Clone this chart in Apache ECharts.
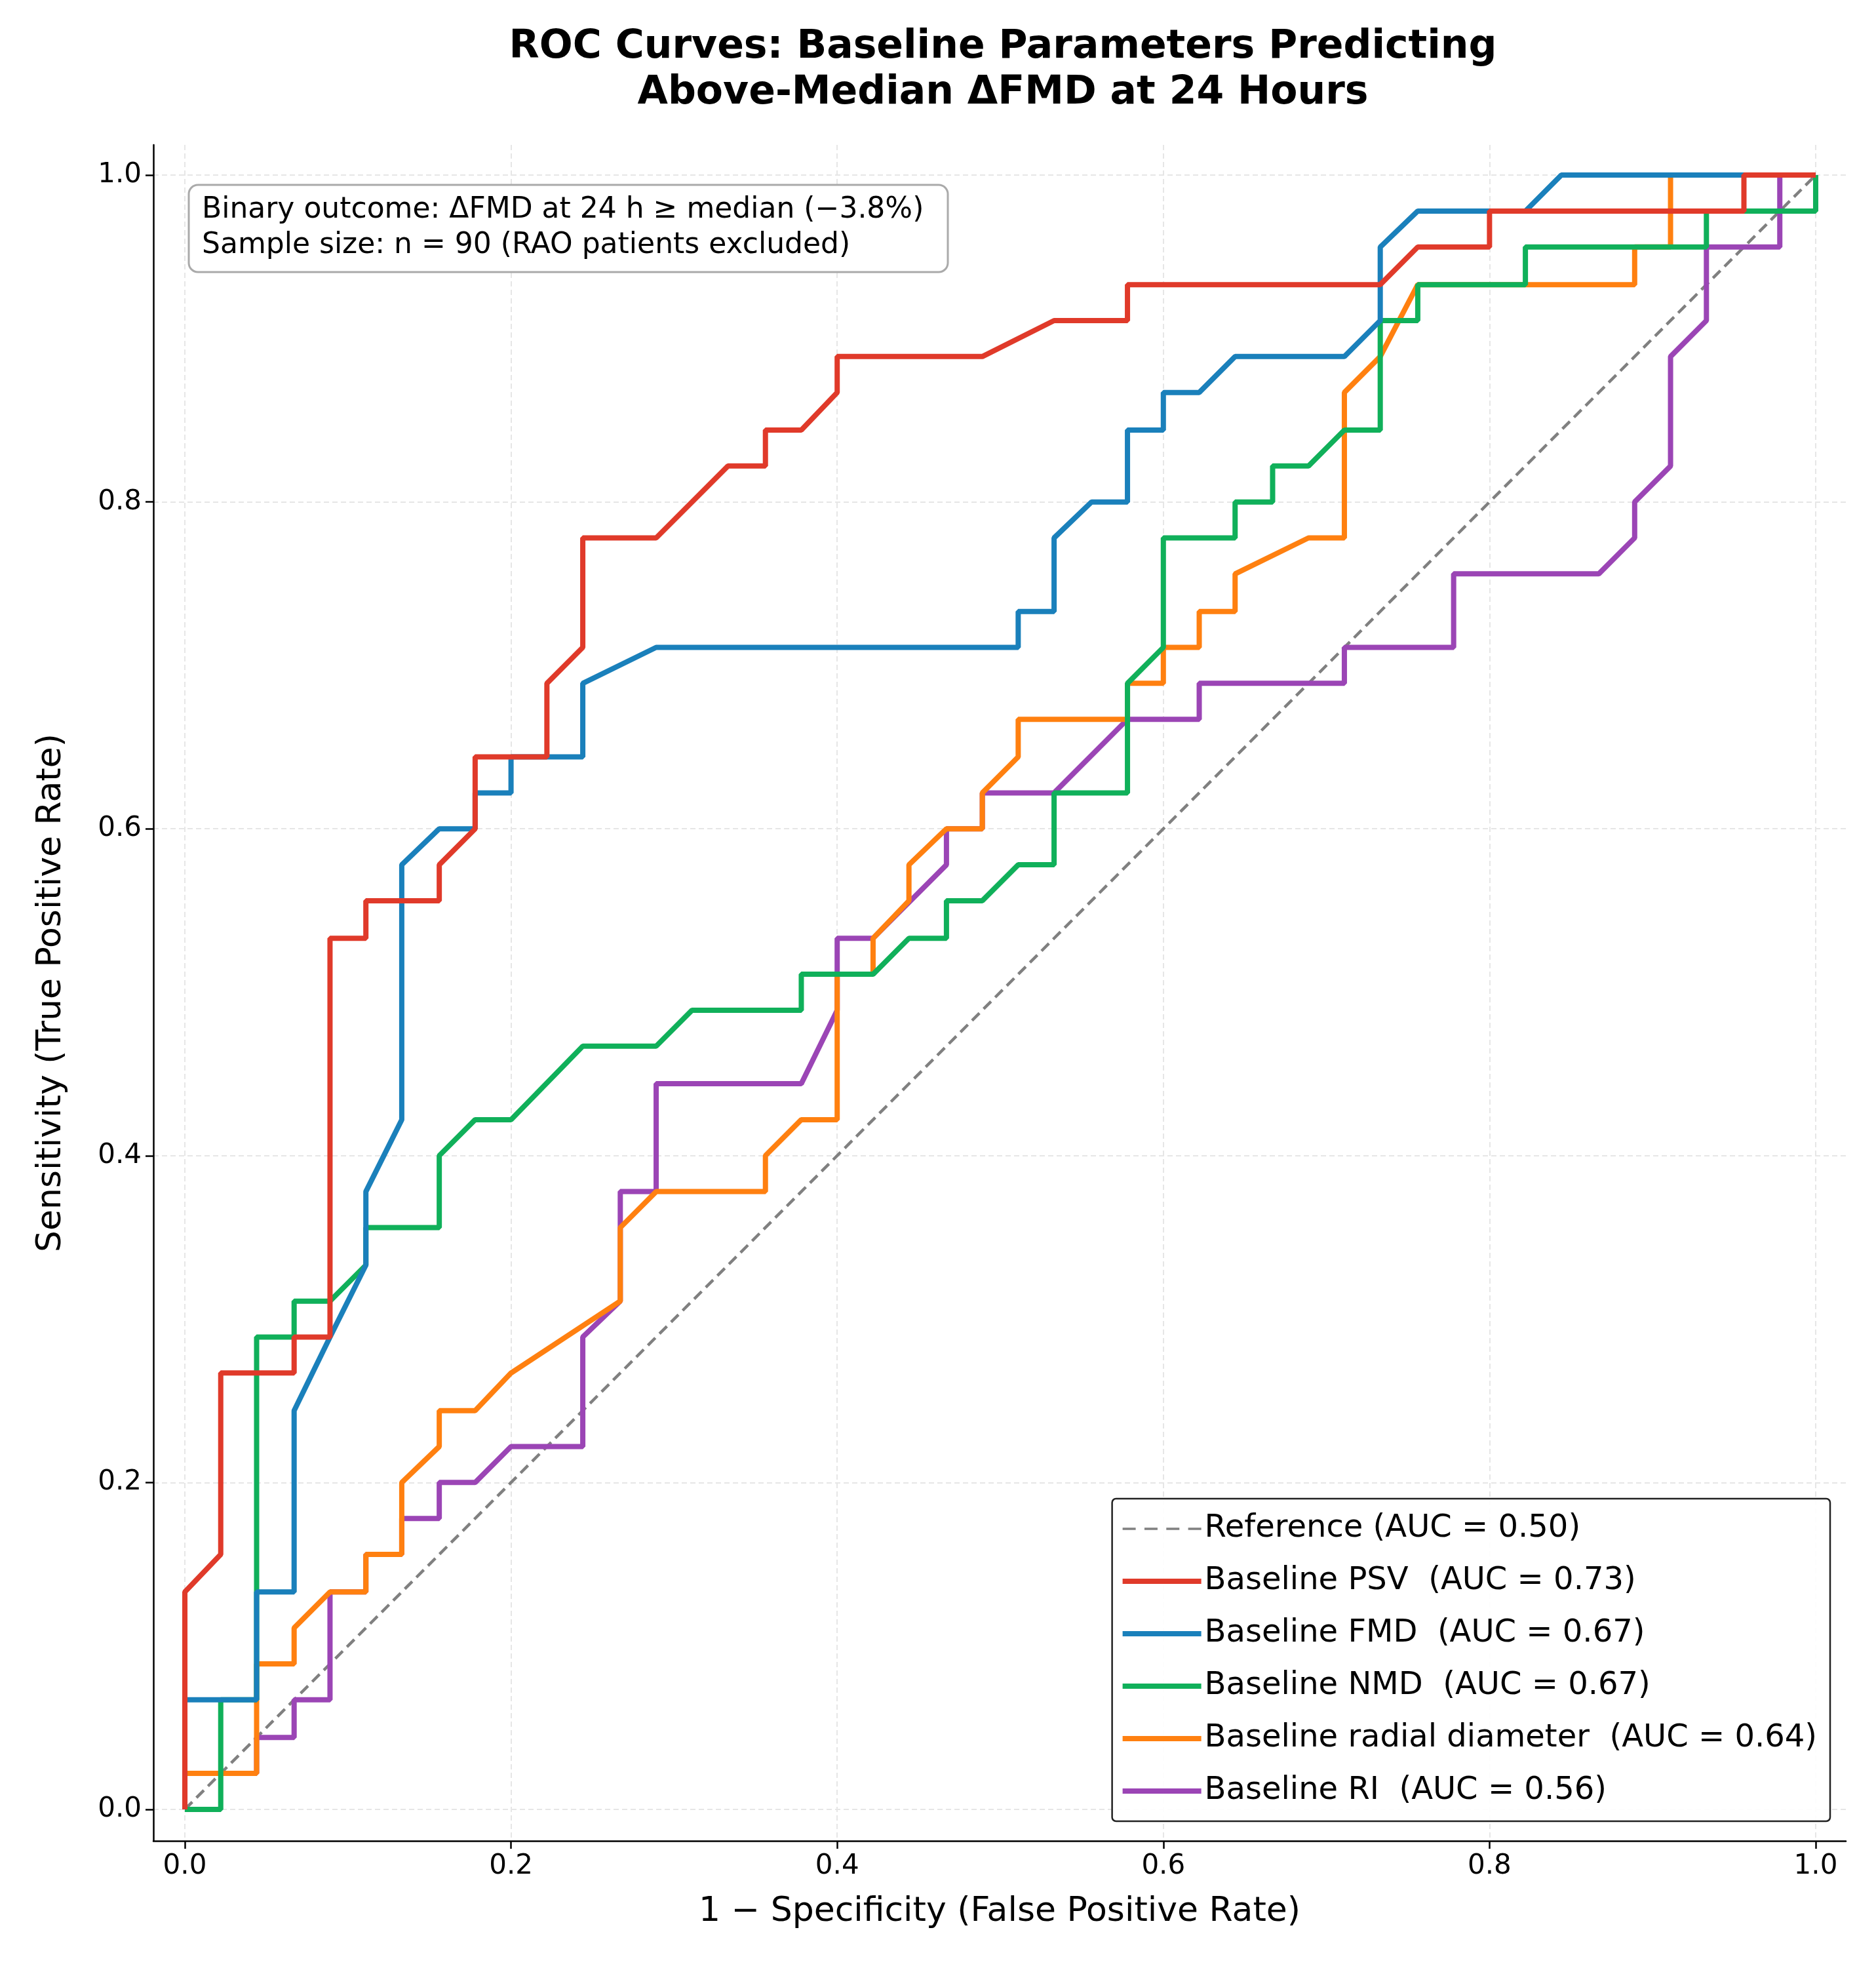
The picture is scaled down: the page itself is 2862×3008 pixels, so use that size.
<!DOCTYPE html>
<html><head><meta charset="utf-8">
<script src="https://cdn.jsdelivr.net/npm/echarts@6/dist/echarts.min.js"></script>
<style>html,body{margin:0;padding:0;background:#fff}#c{width:2862px;height:3008px}</style>
</head><body><div id="c"></div>
<script>
const tickValues=[0,0.2,0.4,0.6,0.8,1.0];
const refLine=[[0,0],[1,1]];
const psv=[[0,0],[0,0.133],[0.022,0.156],[0.022,0.267],[0.067,0.267],[0.067,0.289],[0.089,0.289],[0.089,0.533],[0.111,0.533],[0.111,0.556],[0.156,0.556],[0.156,0.578],[0.178,0.6],[0.178,0.644],[0.222,0.644],[0.222,0.689],[0.244,0.711],[0.244,0.778],[0.289,0.778],[0.333,0.822],[0.356,0.822],[0.356,0.844],[0.378,0.844],[0.4,0.867],[0.4,0.889],[0.489,0.889],[0.533,0.911],[0.578,0.911],[0.578,0.933],[0.733,0.933],[0.756,0.956],[0.8,0.956],[0.8,0.978],[0.956,0.978],[0.956,1],[1,1]];
const fmd=[[0,0],[0,0.067],[0.044,0.067],[0.044,0.133],[0.067,0.133],[0.067,0.244],[0.089,0.289],[0.111,0.333],[0.111,0.378],[0.133,0.422],[0.133,0.578],[0.156,0.6],[0.178,0.6],[0.178,0.622],[0.2,0.622],[0.2,0.644],[0.244,0.644],[0.244,0.689],[0.289,0.711],[0.511,0.711],[0.511,0.733],[0.533,0.733],[0.533,0.778],[0.556,0.8],[0.578,0.8],[0.578,0.844],[0.6,0.844],[0.6,0.867],[0.622,0.867],[0.644,0.889],[0.711,0.889],[0.733,0.911],[0.733,0.956],[0.756,0.978],[0.822,0.978],[0.844,1],[1,1]];
const nmd=[[0,0],[0.022,0],[0.022,0.067],[0.044,0.067],[0.044,0.289],[0.067,0.289],[0.067,0.311],[0.089,0.311],[0.111,0.333],[0.111,0.356],[0.156,0.356],[0.156,0.4],[0.178,0.422],[0.2,0.422],[0.244,0.467],[0.289,0.467],[0.311,0.489],[0.378,0.489],[0.378,0.511],[0.422,0.511],[0.444,0.533],[0.467,0.533],[0.467,0.556],[0.489,0.556],[0.511,0.578],[0.533,0.578],[0.533,0.622],[0.578,0.622],[0.578,0.689],[0.6,0.711],[0.6,0.778],[0.644,0.778],[0.644,0.8],[0.667,0.8],[0.667,0.822],[0.689,0.822],[0.711,0.844],[0.733,0.844],[0.733,0.911],[0.756,0.911],[0.756,0.933],[0.822,0.933],[0.822,0.956],[0.933,0.956],[0.933,0.978],[1,0.978],[1,1]];
const radial=[[0,0],[0,0.022],[0.044,0.022],[0.044,0.089],[0.067,0.089],[0.067,0.111],[0.089,0.133],[0.111,0.133],[0.111,0.156],[0.133,0.156],[0.133,0.2],[0.156,0.222],[0.156,0.244],[0.178,0.244],[0.2,0.267],[0.267,0.311],[0.267,0.356],[0.289,0.378],[0.356,0.378],[0.356,0.4],[0.378,0.422],[0.4,0.422],[0.4,0.511],[0.422,0.511],[0.422,0.533],[0.444,0.556],[0.444,0.578],[0.467,0.6],[0.489,0.6],[0.489,0.622],[0.511,0.644],[0.511,0.667],[0.578,0.667],[0.578,0.689],[0.6,0.689],[0.6,0.711],[0.622,0.711],[0.622,0.733],[0.644,0.733],[0.644,0.756],[0.689,0.778],[0.711,0.778],[0.711,0.867],[0.733,0.889],[0.756,0.933],[0.889,0.933],[0.889,0.956],[0.911,0.956],[0.911,1],[1,1]];
const ri=[[0,0],[0,0.022],[0.044,0.022],[0.044,0.044],[0.067,0.044],[0.067,0.067],[0.089,0.067],[0.089,0.133],[0.111,0.133],[0.111,0.156],[0.133,0.156],[0.133,0.178],[0.156,0.178],[0.156,0.2],[0.178,0.2],[0.2,0.222],[0.244,0.222],[0.244,0.289],[0.267,0.311],[0.267,0.378],[0.289,0.378],[0.289,0.444],[0.378,0.444],[0.4,0.489],[0.4,0.533],[0.422,0.533],[0.467,0.578],[0.467,0.6],[0.489,0.6],[0.489,0.622],[0.533,0.622],[0.578,0.667],[0.622,0.667],[0.622,0.689],[0.711,0.689],[0.711,0.711],[0.778,0.711],[0.778,0.756],[0.867,0.756],[0.889,0.778],[0.889,0.8],[0.911,0.822],[0.911,0.889],[0.933,0.911],[0.933,0.956],[0.978,0.956],[0.978,1],[1,1]];
const names=['Reference (AUC = 0.50)','Baseline PSV  (AUC = 0.73)','Baseline FMD  (AUC = 0.67)','Baseline NMD  (AUC = 0.67)','Baseline radial diameter  (AUC = 0.64)','Baseline RI  (AUC = 0.56)'];
const colors=['#808080','#e03a2a','#1a80bb','#10b05a','#ff8010','#9b45b5'];
const datas=[refLine,psv,fmd,nmd,radial,ri];
const F='DejaVu Sans';
const dashIcon='path://M0,0h6v1h-6z M10,0h6v1h-6z M20,0h6v1h-6z M30,0h6v1h-6z';
const chart=echarts.init(document.getElementById('c'));
const series=datas.map((d,i)=>({name:names[i],type:'line',data:d,showSymbol:false,symbol:'none',z:i===0?1:10-i,
 lineStyle:{color:colors[i],width:i===0?4.5:8,type:i===0?[16,9]:'solid'},itemStyle:{color:colors[i]},animation:false}));
const axisCommon={type:'value',min:-0.0193,max:1.0185,
 axisTick:{show:true,customValues:tickValues,length:12,lineStyle:{color:'#000',width:2.5}},
 axisLabel:{customValues:tickValues,fontFamily:F,fontSize:42,color:'#000',margin:18,formatter:v=>v.toFixed(1)},
 splitLine:{show:true,lineStyle:{color:'#e6e6e6',width:2,type:[8,5]}},
 nameLocation:'middle',nameTextStyle:{fontFamily:F,fontSize:52,color:'#000'}};
chart.setOption({
 backgroundColor:'#fff',
 title:{text:'ROC Curves: Baseline Parameters Predicting\nAbove-Median ΔFMD at 24 Hours',left:1525,top:32,textAlign:'center',
  textStyle:{fontFamily:F,fontSize:60,fontWeight:'bold',color:'#000',lineHeight:70}},
 grid:{left:234,right:46,top:221,bottom:200},
 xAxis:Object.assign({},axisCommon,{name:'1 − Specificity (False Positive Rate)',nameGap:82,axisLine:{show:true,onZero:false,lineStyle:{color:'#000',width:2.5}}}),
 yAxis:Object.assign({},axisCommon,{name:'Sensitivity (True Positive Rate)',nameGap:130,axisLine:{show:true,onZero:false,lineStyle:{color:'#000',width:2.5}}}),
 legend:{orient:'vertical',right:70,bottom:230,itemWidth:120,itemHeight:8,itemGap:32,
  data:names.map((n,i)=>({name:n,icon:i===0?dashIcon:'rect',itemStyle:{color:colors[i]}})),
  textStyle:{fontFamily:F,fontSize:48,color:'#000'},backgroundColor:'rgba(255,255,255,0.9)',borderColor:'#222',borderWidth:2.5,borderRadius:6,padding:[22,20,22,16]},
 graphic:[{type:'rect',shape:{x:288,y:282,width:1158,height:133,r:14},style:{fill:'#fff',stroke:'#aaa',lineWidth:3},z:100},
  {type:'text',x:308,y:294,z:101,style:{text:'Binary outcome: ΔFMD at 24 h ≥ median (−3.8%)\nSample size: n = 90 (RAO patients excluded)',font:'44px "DejaVu Sans"',fill:'#000',lineHeight:54}}],
 series:series
});
</script></body></html>
